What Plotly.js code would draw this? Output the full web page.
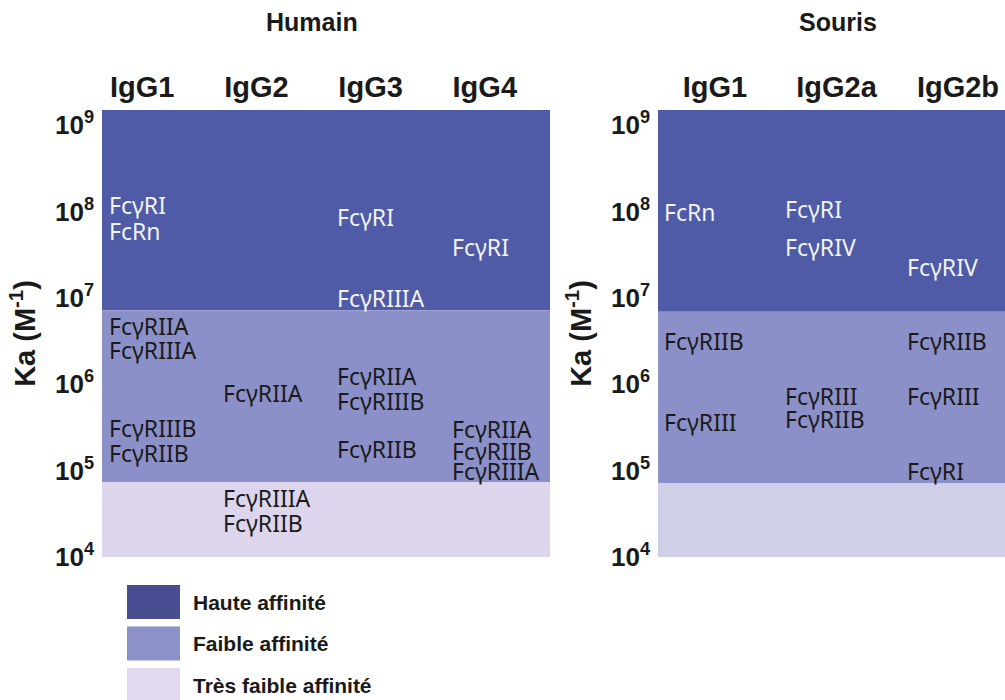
<!DOCTYPE html>
<html>
<head>
<meta charset="utf-8">
<script src="https://cdn.plot.ly/plotly-3.0.1.min.js"></script>
<style>html,body{margin:0;padding:0;background:#fff;}#chart{width:1005px;height:700px;}</style>
</head>
<body>
<div id="chart"></div>
<script>
// ---- data ----
const humanIsotypes = ['IgG1', 'IgG2', 'IgG3', 'IgG4'];
const mouseIsotypes = ['IgG1', 'IgG2a', 'IgG2b'];
const kaTicks = [1e4, 1e5, 1e6, 1e7, 1e8, 1e9];
const kaTickLabels = ['10<sup>4</sup>', '10<sup>5</sup>', '10<sup>6</sup>', '10<sup>7</sup>', '10<sup>8</sup>', '10<sup>9</sup>'];
const bandNames = ['Haute affinité', 'Faible affinité', 'Très faible affinité'];
// band edges from top to bottom (Ka, M-1)
const humanBandEdges = [1.5e9, 7.2e6, 7.4e4, 1e4];
const mouseBandEdges = [1.5e9, 6.9e6, 7.2e4, 1e4];

const humanReceptors = ['FcγRI', 'FcRn', 'FcγRIIA', 'FcγRIIIA', 'FcγRIIIB', 'FcγRIIB',
  'FcγRIIA', 'FcγRIIIA', 'FcγRIIB',
  'FcγRI', 'FcγRIIIA', 'FcγRIIA', 'FcγRIIIB', 'FcγRIIB',
  'FcγRI', 'FcγRIIA', 'FcγRIIB', 'FcγRIIIA'];
const humanReceptorIsotype = ['IgG1', 'IgG1', 'IgG1', 'IgG1', 'IgG1', 'IgG1',
  'IgG2', 'IgG2', 'IgG2',
  'IgG3', 'IgG3', 'IgG3', 'IgG3', 'IgG3',
  'IgG4', 'IgG4', 'IgG4', 'IgG4'];
const humanKa = [1.2e8, 5.9e7, 4.7e6, 2.5e6, 3.1e5, 1.6e5,
  7.9e5, 4.8e4, 2.5e4,
  8.6e7, 1.0e7, 1.24e6, 6.4e5, 1.8e5,
  3.9e7, 3.0e5, 1.7e5, 1.0e5];

const mouseReceptors = ['FcRn', 'FcγRIIB', 'FcγRIII',
  'FcγRI', 'FcγRIV', 'FcγRIII', 'FcγRIIB',
  'FcγRIV', 'FcγRIIB', 'FcγRIII', 'FcγRI'];
const mouseReceptorIsotype = ['IgG1', 'IgG1', 'IgG1',
  'IgG2a', 'IgG2a', 'IgG2a', 'IgG2a',
  'IgG2b', 'IgG2b', 'IgG2b', 'IgG2b'];
const mouseKa = [9.8e7, 3.2e6, 3.7e5,
  1.07e8, 3.9e7, 7.3e5, 4.0e5,
  2.3e7, 3.2e6, 7.3e5, 9.9e4];

// ---- styles ----
const humanBandColors = ['#4f5ba6', '#8b90c8', '#dcd5ec'];
const mouseBandColors = ['#4f5ba6', '#8b90c8', '#cfd0e8'];
const legendColors = ['#484d91', '#8c91c9', '#e3d9ee'];
const boldFont = 'Liberation Sans, Arial, sans-serif';
const labelFont = 'Noto Sans, Open Sans, sans-serif';
const ink = '#1a1a1a';

const shapes = [];
const annotations = [];

function addBands(edges, colors, xref, yref) {
  for (let i = 0; i < 3; i++) {
    shapes.push({type: 'rect', layer: 'below', xref: xref + ' domain', yref: yref,
      x0: 0, x1: 1, y0: edges[i + 1], y1: edges[i],
      fillcolor: colors[i], line: {width: 0}});
  }
}
addBands(humanBandEdges, humanBandColors, 'x', 'y');
addBands(mouseBandEdges, mouseBandColors, 'x2', 'y2');

function addLabels(names, isotypes, kas, cats, edges, xref, yref, shift) {
  for (let i = 0; i < names.length; i++) {
    annotations.push({xref: xref, yref: yref,
      x: cats.indexOf(isotypes[i]) + shift, y: Math.log10(kas[i]),
      text: names[i], showarrow: false, xanchor: 'left', yanchor: 'middle',
      borderpad: 0,
      font: {family: labelFont, size: 23, color: kas[i] > edges[1] ? '#f3f3f8' : ink}});
  }
}
addLabels(humanReceptors, humanReceptorIsotype, humanKa, humanIsotypes, humanBandEdges, 'x', 'y', -0.30);
addLabels(mouseReceptors, mouseReceptorIsotype, mouseKa, mouseIsotypes, mouseBandEdges, 'x2', 'y2', -0.43);

// panel titles
annotations.push({xref: 'paper', yref: 'paper', x: 312 / 1005, y: 1 - 22 / 700, text: 'Humain',
  showarrow: false, xanchor: 'center', yanchor: 'middle',
  font: {family: boldFont, size: 25, weight: 'bold', color: ink}});
annotations.push({xref: 'paper', yref: 'paper', x: 838 / 1005, y: 1 - 22 / 700, text: 'Souris',
  showarrow: false, xanchor: 'center', yanchor: 'middle',
  font: {family: boldFont, size: 25, weight: 'bold', color: ink}});

// legend
for (let i = 0; i < bandNames.length; i++) {
  const top = 585 + i * 41.5;
  shapes.push({type: 'rect', xref: 'paper', yref: 'paper',
    x0: 127 / 1005, x1: 180 / 1005, y0: 1 - (top + 34) / 700, y1: 1 - top / 700,
    fillcolor: legendColors[i], line: {width: 0}});
  annotations.push({xref: 'paper', yref: 'paper', x: 191 / 1005, y: 1 - (top + 17) / 700,
    text: bandNames[i], showarrow: false, xanchor: 'left', yanchor: 'middle',
    font: {family: boldFont, size: 21, weight: 'bold', color: ink}});
}

const yDomain = [1 - 557 / 700, 1 - 110 / 700];
function yAxis(edges, anchor) {
  return {type: 'log', anchor: anchor, domain: yDomain,
    range: [Math.log10(edges[3]), Math.log10(edges[0])],
    tickvals: kaTicks, ticktext: kaTickLabels, ticks: '', ticklabelstandoff: 7,
    tickfont: {family: boldFont, size: 26, weight: 'bold', color: ink},
    showgrid: false, zeroline: false, showline: false, fixedrange: true,
    title: {text: 'Ka (M<sup>-1</sup>)', standoff: 10,
      font: {family: boldFont, size: 29, weight: 'bold', color: ink}}};
}
function xAxis(cats, domain, range, anchor) {
  return {type: 'linear', anchor: anchor, domain: domain, range: range, side: 'top',
    tickvals: cats.map((c, i) => i), ticktext: cats, ticks: '', ticklabelstandoff: 6,
    tickfont: {family: boldFont, size: 29, weight: 'bold', color: ink},
    showgrid: false, zeroline: false, showline: false, fixedrange: true};
}

const data = [
  {type: 'scatter', x: [], y: [], xaxis: 'x', yaxis: 'y', showlegend: false, hoverinfo: 'skip'},
  {type: 'scatter', x: [], y: [], xaxis: 'x2', yaxis: 'y2', showlegend: false, hoverinfo: 'skip'}
];

const layout = {
  width: 1005, height: 700,
  margin: {l: 0, r: 0, t: 0, b: 0},
  paper_bgcolor: '#ffffff', plot_bgcolor: '#ffffff',
  showlegend: false,
  xaxis: xAxis(humanIsotypes, [102 / 1005, 550 / 1005], [-0.352, 3.571], 'y'),
  yaxis: yAxis(humanBandEdges, 'x'),
  xaxis2: xAxis(mouseIsotypes, [658 / 1005, 1], [-0.469, 2.387], 'y2'),
  yaxis2: yAxis(mouseBandEdges, 'x2'),
  shapes: shapes,
  annotations: annotations
};

Plotly.newPlot('chart', data, layout, {displayModeBar: false, staticPlot: true});
</script>
</body>
</html>
